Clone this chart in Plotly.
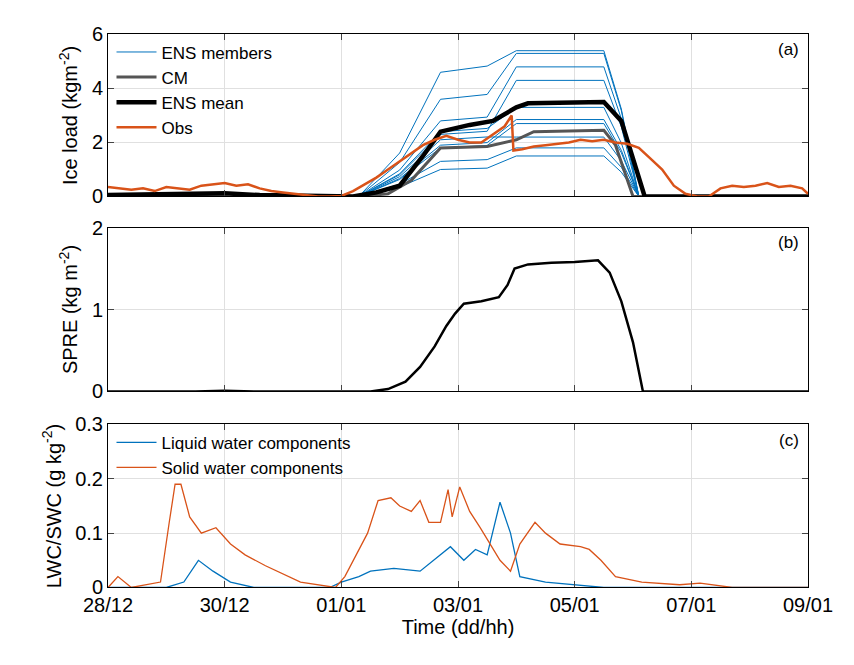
import plotly.graph_objects as go

tick_vals = [0, 2, 4, 6, 8, 10, 12]
tick_text = ["28/12", "30/12", "01/01", "03/01", "05/01", "07/01", "09/01"]

# ENS members: (rise level at 5.6 d, final plateau level)
member_mid = [4.6, 3.6, 2.8, 2.3, 2.4, 1.9, 1.8, 1.3, 1.0, 2.1]
member_fin = [5.4, 5.3, 4.8, 4.3, 3.3, 2.85, 2.7, 1.8, 1.5, 2.2]
member_t = [0, 1.5, 2.0, 2.6, 4.3, 5.0, 5.7, 6.5, 7.0, 8.5, 8.8, 9.1, 12]

ens_t = [0, 1.5, 2.0, 2.6, 4.2, 4.6, 5.0, 5.4, 5.7, 6.2, 6.6, 7.0, 7.2, 8.5, 8.8, 9.2, 12]
ens_v = [0.05, 0.08, 0.12, 0.05, 0.0, 0.15, 0.4, 1.5, 2.4, 2.65, 2.8, 3.3, 3.45, 3.5, 2.8, 0.0, 0.0]
cm_t = [0, 1.5, 2.0, 2.6, 4.3, 4.8, 5.2, 5.7, 6.5, 7.0, 7.3, 8.5, 8.7, 9.0, 12]
cm_v = [0.02, 0.05, 0.1, 0.03, 0.0, 0.1, 0.6, 1.8, 1.85, 2.1, 2.4, 2.45, 1.9, 0.0, 0.0]

obs_t = [0, 0.2, 0.4, 0.6, 0.8, 1.0, 1.2, 1.4, 1.6, 1.8, 2.0, 2.2, 2.4, 2.6, 2.8, 3.0, 3.2, 3.4,
         3.6, 3.8, 4.0, 4.2, 4.4, 4.6, 4.8, 5.0, 5.2, 5.4, 5.6, 5.8, 6.0, 6.2, 6.4, 6.6, 6.8, 6.92,
         6.95, 7.1, 7.3, 7.5, 7.7, 7.9, 8.1, 8.3, 8.5, 8.7, 8.9, 9.1, 9.3, 9.5, 9.7, 9.9, 10.1, 10.3,
         10.5, 10.7, 10.9, 11.1, 11.3, 11.5, 11.7, 11.9, 12.0]
obs_v = [0.35, 0.3, 0.25, 0.3, 0.2, 0.35, 0.3, 0.25, 0.4, 0.45, 0.5, 0.4, 0.45, 0.3, 0.2, 0.15, 0.1, 0.05,
         0.0, 0.0, 0.02, 0.2, 0.45, 0.7, 1.0, 1.3, 1.6, 1.9, 2.1, 2.25, 2.1, 2.0, 2.0, 2.3, 2.6, 3.0,
         1.7, 1.75, 1.85, 1.9, 1.95, 2.0, 2.1, 2.05, 2.1, 2.0, 1.95, 1.8, 1.4, 1.0, 0.4, 0.1, 0.0, 0.0,
         0.3, 0.4, 0.35, 0.4, 0.5, 0.35, 0.4, 0.3, 0.1]

spre_t = [0, 1.5, 2.0, 2.5, 4.5, 4.8, 5.1, 5.35, 5.6, 5.8, 5.95, 6.1, 6.4, 6.7, 6.85, 6.97, 7.2, 7.6, 8.0, 8.4, 8.6, 8.8, 9.0, 9.17, 12]
spre_v = [0, 0, 0.01, 0, 0, 0.03, 0.12, 0.3, 0.55, 0.8, 0.95, 1.07, 1.1, 1.15, 1.3, 1.5, 1.55, 1.57, 1.58, 1.6, 1.45, 1.1, 0.6, 0, 0]

lwc_t = [0, 1.0, 1.3, 1.55, 1.8, 2.1, 2.5, 3.8, 4.0, 4.3, 4.5, 4.9, 5.35, 5.7, 5.87, 6.1, 6.3, 6.5, 6.72, 6.9, 7.06, 7.5, 8.0, 8.5, 12]
lwc_v = [0, 0, 0.01, 0.05, 0.03, 0.01, 0, 0, 0.01, 0.02, 0.03, 0.035, 0.03, 0.06, 0.075, 0.05, 0.07, 0.06, 0.157, 0.1, 0.02, 0.01, 0.005, 0, 0]
swc_t = [0, 0.17, 0.4, 0.9, 1.05, 1.15, 1.25, 1.4, 1.6, 1.85, 2.1, 2.35, 2.7, 3.1, 3.3, 3.9, 4.06, 4.45, 4.63, 4.85, 5.0, 5.2, 5.35, 5.5, 5.7, 5.83, 5.9, 6.03, 6.2, 6.38, 6.55, 6.72, 6.9, 7.06, 7.32, 7.5, 7.75, 8.1, 8.25, 8.45, 8.7, 9.15, 9.8, 10.15, 10.7, 12]
swc_v = [0, 0.02, 0, 0.01, 0.12, 0.19, 0.19, 0.13, 0.1, 0.11, 0.08, 0.06, 0.04, 0.02, 0.01, 0, 0.02, 0.1, 0.16, 0.165, 0.15, 0.14, 0.16, 0.12, 0.12, 0.18, 0.13, 0.185, 0.14, 0.11, 0.08, 0.05, 0.03, 0.08, 0.12, 0.1, 0.08, 0.075, 0.07, 0.05, 0.02, 0.01, 0.005, 0.008, 0, 0]

blue = "#0072BD"
orange = "#D95319"
fig = go.Figure()
for i, (m, f) in enumerate(zip(member_mid, member_fin)):
    vals = [0.03, 0.05, 0.1, 0.03, 0.0, m * 0.35, m, m * 1.05, f, f, f * 0.6, 0.0, 0.0]
    fig.add_trace(go.Scatter(x=member_t, y=vals, mode="lines", line=dict(color=blue, width=1),
                             name="ENS members", showlegend=(i == 0), legend="legend",
                             xaxis="x", yaxis="y"))
fig.add_trace(go.Scatter(x=cm_t, y=cm_v, mode="lines", line=dict(color="#555555", width=3),
                         name="CM", legend="legend", xaxis="x", yaxis="y"))
fig.add_trace(go.Scatter(x=ens_t, y=ens_v, mode="lines", line=dict(color="black", width=4.5),
                         name="ENS mean", legend="legend", xaxis="x", yaxis="y"))
fig.add_trace(go.Scatter(x=obs_t, y=obs_v, mode="lines", line=dict(color=orange, width=2.5),
                         name="Obs", legend="legend", xaxis="x", yaxis="y"))
fig.add_trace(go.Scatter(x=spre_t, y=spre_v, mode="lines", line=dict(color="black", width=2.5),
                         showlegend=False, xaxis="x2", yaxis="y2"))
fig.add_trace(go.Scatter(x=lwc_t, y=lwc_v, mode="lines", line=dict(color=blue, width=1.3),
                         name="Liquid water components", legend="legend2", xaxis="x3", yaxis="y3"))
fig.add_trace(go.Scatter(x=swc_t, y=swc_v, mode="lines", line=dict(color=orange, width=1.3),
                         name="Solid water components", legend="legend2", xaxis="x3", yaxis="y3"))

ax = dict(range=[0, 12], tickvals=tick_vals, showgrid=True, gridcolor="#e0e0e0", ticks="inside",
          ticklen=6, mirror="ticks", showline=True, linecolor="black", linewidth=1,
          tickfont=dict(size=20), zeroline=False)
ay = dict(showgrid=True, gridcolor="#e0e0e0", ticks="inside", ticklen=6, mirror="ticks",
          showline=True, linecolor="black", linewidth=1, tickfont=dict(size=20), zeroline=False,
          title_font=dict(size=20), title_standoff=8)
fig.update_layout(
    width=854, height=665, margin=dict(l=100, r=54, t=0, b=0),
    plot_bgcolor="white", paper_bgcolor="white",
    font=dict(family="Liberation Sans, Arial", color="black"),
    xaxis=dict(ax, domain=[0, 1], anchor="y", ticktext=[""] * 7),
    xaxis2=dict(ax, domain=[0, 1], anchor="y2", ticktext=[""] * 7),
    xaxis3=dict(ax, domain=[0, 1], anchor="y3", ticktext=tick_text,
                title=dict(text="Time (dd/hh)", font=dict(size=20), standoff=4)),
    yaxis=dict(ay, domain=[0.724, 0.9759], range=[0, 6], tickvals=[0, 2, 4, 6],
               title=dict(text="Ice load (kgm<sup>-2</sup>)")),
    yaxis2=dict(ay, domain=[0.4207, 0.6757], range=[0, 2], tickvals=[0, 1, 2],
                title=dict(text="SPRE (kg m<sup>-2</sup>)")),
    yaxis3=dict(ay, domain=[0.1159, 0.3694], range=[0, 0.3], tickvals=[0, 0.1, 0.2, 0.3],
                title=dict(text="LWC/SWC (g kg<sup>-2</sup>)")),
    legend=dict(x=0.005, y=0.976, xanchor="left", yanchor="top", font=dict(size=17),
                bgcolor="rgba(255,255,255,0)", tracegroupgap=0, itemwidth=40),
    legend2=dict(x=0.005, y=0.369, xanchor="left", yanchor="top", font=dict(size=17),
                 bgcolor="rgba(255,255,255,0)", itemwidth=40),
    annotations=[
        dict(text="(a)", x=0.99, y=0.97, xref="paper", yref="paper", xanchor="right", yanchor="top", showarrow=False, font=dict(size=17)),
        dict(text="(b)", x=0.99, y=0.67, xref="paper", yref="paper", xanchor="right", yanchor="top", showarrow=False, font=dict(size=17)),
        dict(text="(c)", x=0.99, y=0.363, xref="paper", yref="paper", xanchor="right", yanchor="top", showarrow=False, font=dict(size=17)),
    ],
)
fig.write_html("out.html")
